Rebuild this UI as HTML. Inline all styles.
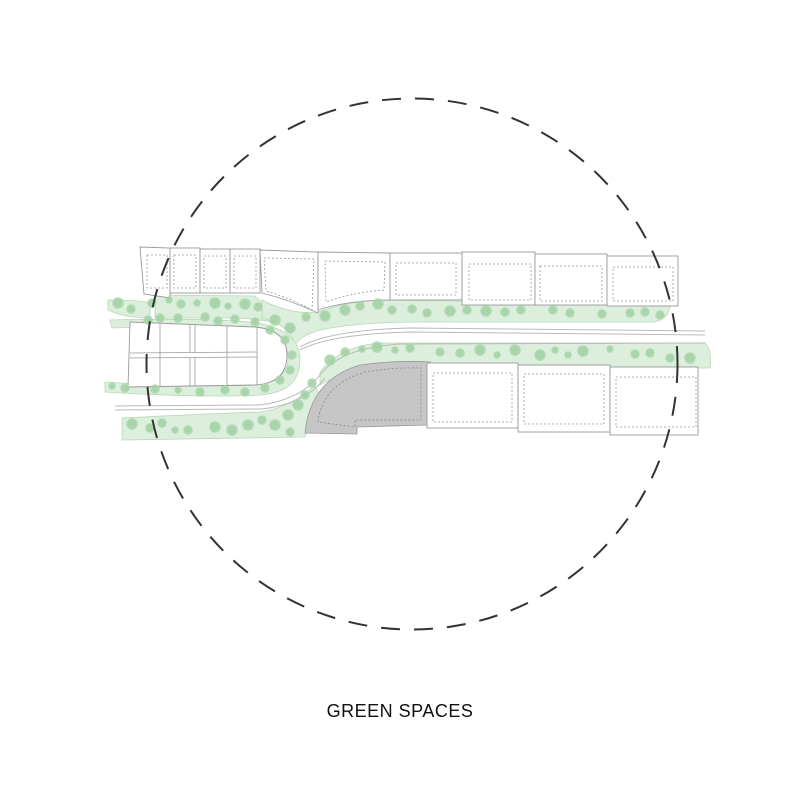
<!DOCTYPE html>
<html><head><meta charset="utf-8"><style>
html,body{margin:0;padding:0;background:#fff;}
svg{display:block}
</style></head><body>
<svg width="800" height="800" viewBox="0 0 800 800" xmlns="http://www.w3.org/2000/svg">
<rect width="800" height="800" fill="#fff"/>
<g fill="#dcefdc" stroke="#b9d8b9" stroke-width="0.8">
  <path d="M108 300 Q140 300 150 303 L150 318 Q125 318 108 310 Z"/>
  <path d="M155 295 L255 296 L262 303 Q275 315 300 318 L330 323 Q300 330 295 345 Q300 332 285 325 Q260 318 230 318 L155 318 Z"/>
  <path d="M262 300 Q290 315 318 312 Q345 302 380 300 L670 304 Q670 318 655 322 L420 322 Q360 322 320 330 Q300 336 295 345 Q290 325 262 318 Z"/>
  <path d="M110 320 Q200 318 250 322 Q300 328 300 360 Q300 392 260 395 Q200 398 105 392 L105 382 Q200 388 258 385 Q290 380 288 355 Q285 330 250 327 Q200 325 112 328 Z"/>
  <path d="M320 372 Q340 346 380 343 L705 343 Q712 350 710 368 L430 368 L430 362 Q360 362 320 385 Z"/>
  <path d="M122 418 Q200 414 260 412 Q290 408 315 385 L322 400 Q312 420 305 437 L122 440 Z"/>
</g>
<g fill="none" stroke="#b9b9b9" stroke-width="1">
  <path d="M300 347 Q330 330 410 328 L705 331"/>
  <path d="M300 350 Q330 334 410 332 L705 335"/>
  <path d="M115 406 L260 405 Q300 400 320 375 Q340 348 400 344 L705 343"/>
  <path d="M115 410 L262 409 Q305 404 325 378"/>
</g>
<path d="M305 433 Q310 380 360 365 Q395 360 430 362 L428 425 L357 427 L357 434 Z" fill="#c6c6c6" stroke="#999" stroke-width="0.8"/>
<path d="M318 422 Q322 385 365 372 Q395 367 421 368 L421 420 L355 420 L355 427 Z" fill="none" stroke="#888" stroke-width="0.8" stroke-dasharray="2 2"/>
<g fill="#fff" stroke="#9a9a9a" stroke-width="0.9">
  <path d="M140 247 L170 248 L170 298 L144 294 Z"/>
  <rect x="170" y="248" width="30" height="45"/>
  <rect x="200" y="249" width="30" height="44"/>
  <rect x="230" y="249" width="30" height="44"/>
  <path d="M260 250 L318 252 L318 313 Q290 300 262 293 Z"/>
  <path d="M318 252 L390 253 L390 300 Q350 300 318 310 Z"/>
  <rect x="390" y="253" width="72" height="47"/>
  <rect x="462" y="252" width="73" height="53"/>
  <rect x="535" y="254" width="72" height="51"/>
  <rect x="607" y="256" width="71" height="50"/>
  <path d="M130 322 L255 327 Q287 330 287 355 Q287 383 255 385 L128 387 Z"/>
  <rect x="427" y="363" width="91" height="65"/>
  <rect x="518" y="365" width="92" height="67"/>
  <rect x="610" y="367" width="88" height="68"/>
</g>
<g fill="none" stroke="#9a9a9a" stroke-width="0.8">
  <path d="M160 324 L160 386 M190 325 L190 352 M195 325 L195 352 M227 326 L227 385 M257 327 L257 385 M130 353 L257 352 M130 358 L257 357 M190 358 L190 386 M195 358 L195 386"/>
</g>
<g fill="none" stroke="#999" stroke-width="0.8" stroke-dasharray="2 2">
  <rect x="147" y="255" width="20" height="33"/>
  <rect x="174" y="255" width="22" height="33"/>
  <rect x="204" y="256" width="22" height="32"/>
  <rect x="234" y="256" width="22" height="32"/>
  <path d="M264 258 L314 259 L312 310 Q290 298 266 291 Z"/>
  <path d="M325 261 L385 262 L384 290 Q350 293 326 302 Z"/>
  <rect x="396" y="263" width="60" height="32"/>
  <rect x="469" y="264" width="62" height="36"/>
  <rect x="540" y="266" width="62" height="35"/>
  <rect x="613" y="267" width="60" height="34"/>
  <rect x="433" y="373" width="79" height="49"/>
  <rect x="524" y="374" width="80" height="50"/>
  <rect x="616" y="377" width="80" height="50"/>
</g>
<g fill="#9fd0a2" stroke="#aad6ad" stroke-width="1.5" opacity="0.85">
  <circle cx="118" cy="303" r="5"/><circle cx="131" cy="309" r="4"/><circle cx="152" cy="303" r="4"/><circle cx="169" cy="300" r="3"/><circle cx="181" cy="304" r="4"/>
  <circle cx="197" cy="303" r="3"/><circle cx="215" cy="303" r="5"/><circle cx="228" cy="306" r="3"/><circle cx="245" cy="304" r="5"/><circle cx="258" cy="307" r="4"/>
  <circle cx="275" cy="320" r="5"/><circle cx="290" cy="328" r="5"/><circle cx="306" cy="317" r="4"/><circle cx="325" cy="316" r="5"/><circle cx="345" cy="310" r="5"/>
  <circle cx="360" cy="306" r="4"/><circle cx="378" cy="304" r="5"/><circle cx="392" cy="310" r="4"/><circle cx="412" cy="309" r="4"/><circle cx="427" cy="313" r="4"/>
  <circle cx="450" cy="311" r="5"/><circle cx="467" cy="310" r="4"/><circle cx="486" cy="311" r="5"/><circle cx="505" cy="312" r="4"/><circle cx="521" cy="310" r="4"/>
  <circle cx="553" cy="310" r="4"/><circle cx="570" cy="313" r="4"/><circle cx="602" cy="314" r="4"/><circle cx="630" cy="313" r="4"/><circle cx="645" cy="312" r="4"/><circle cx="660" cy="315" r="4"/>
  <circle cx="148" cy="320" r="4"/><circle cx="160" cy="318" r="4"/><circle cx="178" cy="318" r="4"/><circle cx="205" cy="317" r="4"/><circle cx="218" cy="321" r="4"/><circle cx="235" cy="319" r="4"/>
  <circle cx="255" cy="322" r="4"/><circle cx="270" cy="330" r="4"/><circle cx="285" cy="340" r="4"/><circle cx="292" cy="355" r="4"/><circle cx="290" cy="370" r="4"/><circle cx="280" cy="380" r="4"/>
  <circle cx="265" cy="388" r="4"/><circle cx="245" cy="392" r="4"/><circle cx="225" cy="390" r="4"/><circle cx="200" cy="392" r="4"/><circle cx="178" cy="390" r="3"/><circle cx="155" cy="389" r="4"/><circle cx="125" cy="388" r="4"/><circle cx="112" cy="386" r="3"/>
  <circle cx="330" cy="360" r="5"/><circle cx="345" cy="352" r="4"/><circle cx="362" cy="349" r="3"/><circle cx="377" cy="347" r="5"/><circle cx="395" cy="350" r="3"/><circle cx="410" cy="348" r="4"/>
  <circle cx="440" cy="352" r="4"/><circle cx="460" cy="353" r="4"/><circle cx="480" cy="350" r="5"/><circle cx="497" cy="355" r="3"/><circle cx="515" cy="350" r="5"/>
  <circle cx="540" cy="355" r="5"/><circle cx="555" cy="350" r="3"/><circle cx="568" cy="355" r="3"/><circle cx="583" cy="351" r="5"/><circle cx="610" cy="349" r="3"/>
  <circle cx="635" cy="354" r="4"/><circle cx="650" cy="353" r="4"/><circle cx="670" cy="358" r="4"/><circle cx="690" cy="358" r="5"/>
  <circle cx="132" cy="424" r="5"/><circle cx="150" cy="428" r="4"/><circle cx="162" cy="423" r="4"/><circle cx="175" cy="430" r="3"/><circle cx="188" cy="430" r="4"/>
  <circle cx="215" cy="427" r="5"/><circle cx="232" cy="430" r="5"/><circle cx="248" cy="425" r="5"/><circle cx="262" cy="420" r="4"/><circle cx="275" cy="425" r="5"/>
  <circle cx="288" cy="415" r="5"/><circle cx="298" cy="405" r="5"/><circle cx="305" cy="395" r="4"/><circle cx="290" cy="432" r="4"/><circle cx="312" cy="383" r="4"/>
</g>
<circle cx="412" cy="364" r="265.5" fill="none" stroke="#333" stroke-width="2" stroke-dasharray="19 14"/>
<text x="400" y="717" text-anchor="middle" font-family="Liberation Sans, sans-serif" font-size="18" font-weight="300" letter-spacing="0.5" fill="#111">GREEN SPACES</text>
</svg>
</body></html>
